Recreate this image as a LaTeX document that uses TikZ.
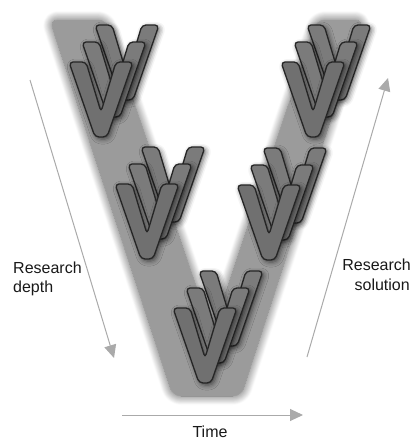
\documentclass[tikz,border=0pt]{standalone}
\usepackage{fontspec}
\setmainfont{Liberation Sans}
\usetikzlibrary{arrows.meta,shadows.blur}

\definecolor{bandgray}{RGB}{155,155,155}
\definecolor{vgray}{RGB}{112,112,112}
\definecolor{arrowgray}{RGB}{170,170,170}
\definecolor{textgray}{RGB}{25,25,25}

\tikzset{
  band/.style={fill=bandgray, rounded corners=8pt,
    blur shadow={shadow xshift=0pt, shadow yshift=0pt,
      shadow blur radius=9pt, shadow opacity=70, shadow blur steps=12}},
  vshape/.style={fill=vgray, draw=black!85, line width=1.3pt,
    rounded corners=4pt, line join=round,
    blur shadow={shadow xshift=2pt, shadow yshift=-2pt,
      shadow blur radius=5pt, shadow opacity=60}},
  vback/.style={vshape, fill=vgray!92!white},
  guide/.style={draw=arrowgray, line width=1pt,
    -{Triangle[length=13pt,width=12pt]}},
  caption/.style={font=\fontsize{16}{19}\selectfont, text=textgray,
    inner sep=0pt},
}

% one V mark, top-left corner at (#1,#2)
\newcommand{\vglyph}[3]{%
  \path[#3, shift={(#1,#2)}]
    (0,0) -- (17,0) -- (32,50) -- (47,0) -- (64,0)
    -- (38,75) -- (26,75) -- cycle;}

% three stacked V marks, front mark at (#1,#2)
\newcommand{\vcluster}[2]{%
  \vglyph{{#1+26}}{{#2-37}}{vback}
  \vglyph{{#1+13}}{{#2-20}}{vback}
  \vglyph{{#1}}{{#2}}{vshape}}

\begin{document}
\begin{tikzpicture}[x=1pt, y=-1pt]
  \useasboundingbox (0,0) rectangle (412,442);

  % large V band
  \path[band] (50,20) -- (106,20) -- (212,334) -- (317,20) -- (363,20)
    -- (241,396) -- (173,396) -- cycle;

  % small V clusters
  \vcluster{69}{62}
  \vcluster{281}{62}
  \vcluster{115}{184}
  \vcluster{237}{185}
  \vcluster{173}{308}

  % guide arrows
  \coordinate (depthA) at (30,80);
  \coordinate (depthB) at (114,358);
  \coordinate (solA) at (307,357);
  \coordinate (solB) at (388,78);
  \coordinate (timeA) at (122,415);
  \coordinate (timeB) at (303,415);
  \draw[guide] (depthA) -- (depthB);
  \draw[guide] (solA) -- (solB);
  \draw[guide] (timeA) -- (timeB);

  % labels
  \node[caption, anchor=base west] (depth1) at (13,273) {Research};
  \node[caption, anchor=base west] (depth2) at (13,292) {depth};
  \node[caption, anchor=base east] (sol1) at (411,270) {Research};
  \node[caption, anchor=base east] (sol2) at (410,290) {solution};
  \node[caption, anchor=base] (time) at (210,437) {Time};
\end{tikzpicture}
\end{document}
